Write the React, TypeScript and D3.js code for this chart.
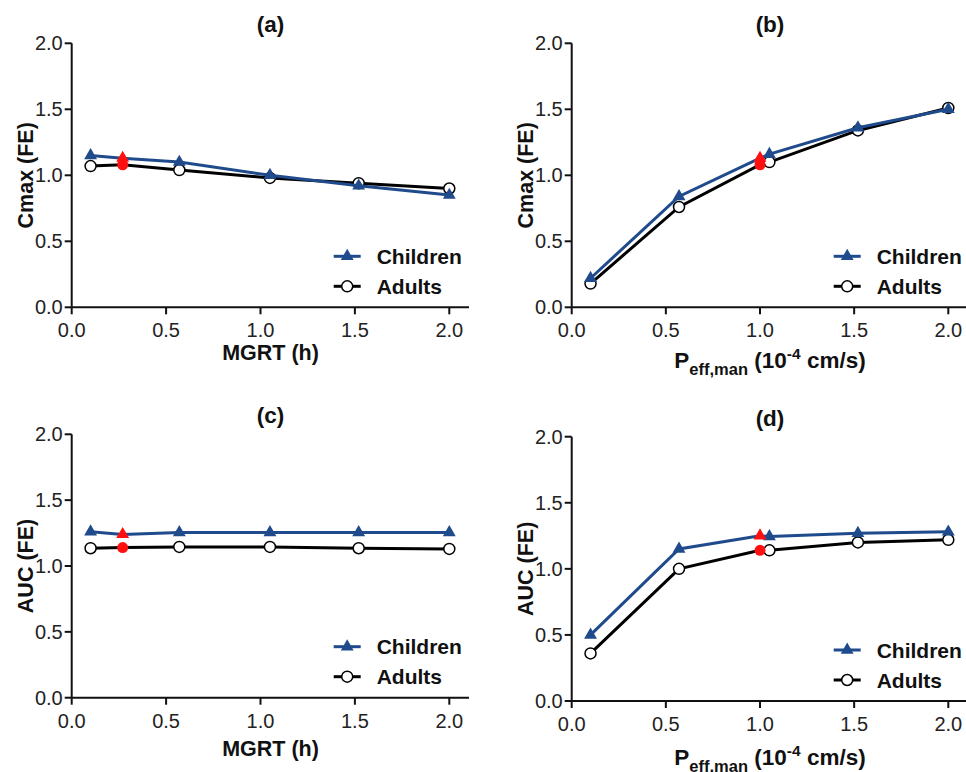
import React from "react";
import * as d3 from "d3";

const mgrtX = [0.1, 0.27, 0.57, 1.05, 1.52, 2.0];
const peffX = [0.1, 0.57, 1.0, 1.05, 1.52, 2.0];

const cmaxMgrtChildren = [1.15, 1.13, 1.1, 1.0, 0.92, 0.85];
const cmaxMgrtAdults = [1.07, 1.08, 1.04, 0.98, 0.94, 0.9];
const cmaxPeffChildren = [0.22, 0.84, 1.13, 1.16, 1.36, 1.5];
const cmaxPeffAdults = [0.18, 0.76, 1.08, 1.1, 1.34, 1.51];
const aucMgrtChildren = [1.26, 1.24, 1.255, 1.255, 1.255, 1.255];
const aucMgrtAdults = [1.135, 1.14, 1.145, 1.145, 1.135, 1.13];
const aucPeffChildren = [0.5, 1.15, 1.25, 1.245, 1.27, 1.28];
const aucPeffAdults = [0.36, 1.0, 1.14, 1.14, 1.2, 1.22];

const axisTicks = [0, 0.5, 1.0, 1.5, 2.0];
const legendLabels = ["Children", "Adults"];
const panelTitles = ["(a)", "(b)", "(c)", "(d)"];

const BLUE = "#1f4b8c";
const RED = "#ff1010";
const FONT = "'Liberation Sans', Arial, sans-serif";

type PanelDef = {
  title: string;
  x: number[];
  children: number[];
  adults: number[];
  redIndex: number;
  yLabel: string;
  xLabelKind: "mgrt" | "peff";
  left: number;
  right: number;
  top: number;
  bottom: number;
  axisEnd: number;
  xLabelY: number;
};

const panels: PanelDef[] = [
  { title: panelTitles[0], x: mgrtX, children: cmaxMgrtChildren, adults: cmaxMgrtAdults, redIndex: 1, yLabel: "Cmax (FE)", xLabelKind: "mgrt", left: 71.7, right: 449.3, top: 43.3, bottom: 307.3, axisEnd: 469, xLabelY: 360 },
  { title: panelTitles[1], x: peffX, children: cmaxPeffChildren, adults: cmaxPeffAdults, redIndex: 2, yLabel: "Cmax (FE)", xLabelKind: "peff", left: 571.7, right: 948.3, top: 43.3, bottom: 307.3, axisEnd: 970, xLabelY: 368 },
  { title: panelTitles[2], x: mgrtX, children: aucMgrtChildren, adults: aucMgrtAdults, redIndex: 1, yLabel: "AUC (FE)", xLabelKind: "mgrt", left: 71.7, right: 449.3, top: 434.3, bottom: 697.7, axisEnd: 469, xLabelY: 756 },
  { title: panelTitles[3], x: peffX, children: aucPeffChildren, adults: aucPeffAdults, redIndex: 2, yLabel: "AUC (FE)", xLabelKind: "peff", left: 571.7, right: 948.3, top: 436.7, bottom: 701, axisEnd: 970, xLabelY: 765 },
];

const triPath = d3.symbol().type(d3.symbolTriangle).size(72)() as string;

function Panel({ p }: { p: PanelDef }) {
  const xs = d3.scaleLinear().domain([0, 2]).range([p.left, p.right]);
  const ys = d3.scaleLinear().domain([0, 2]).range([p.bottom, p.top]);
  const fmt = d3.format(".1f");
  const line = d3
    .line<number>()
    .x((_, i) => xs(p.x[i]))
    .y((d) => ys(d));
  const cx = (p.left + p.right) / 2 + 10;
  const legX = p.left + 262;
  const legYc = p.bottom - 51;
  const legYa = p.bottom - 21;
  return (
    <g>
      <text x={cx} y={p.top - 11} textAnchor="middle" fontFamily={FONT} fontWeight="bold" fontSize={22.5} fill="#111">
        {p.title}
      </text>
      {/* axes */}
      <line x1={p.left} x2={p.left} y1={p.top} y2={p.bottom} stroke="#111" strokeWidth={2} />
      <line x1={p.left} x2={p.axisEnd} y1={p.bottom} y2={p.bottom} stroke="#111" strokeWidth={2} />
      {axisTicks.map((t) => (
        <g key={"y" + t}>
          <line x1={p.left - 7} x2={p.left} y1={ys(t)} y2={ys(t)} stroke="#111" strokeWidth={2} />
          <text x={p.left - 9} y={ys(t)} dy="0.35em" textAnchor="end" fontFamily={FONT} fontSize={20} fill="#222">
            {fmt(t)}
          </text>
        </g>
      ))}
      {axisTicks.map((t) => (
        <g key={"x" + t}>
          <line x1={xs(t)} x2={xs(t)} y1={p.bottom} y2={p.bottom + 7} stroke="#111" strokeWidth={2} />
          <text x={xs(t)} y={p.bottom + 30} textAnchor="middle" fontFamily={FONT} fontSize={20} fill="#222">
            {fmt(t)}
          </text>
        </g>
      ))}
      <text
        transform={`translate(${p.left - 39},${(p.top + p.bottom) / 2}) rotate(-90)`}
        textAnchor="middle"
        fontFamily={FONT}
        fontWeight="bold"
        fontSize={21.5}
        fill="#111"
      >
        {p.yLabel}
      </text>
      {p.xLabelKind === "mgrt" ? (
        <text x={cx} y={p.xLabelY} textAnchor="middle" fontFamily={FONT} fontWeight="bold" fontSize={21.5} fill="#111">
          MGRT (h)
        </text>
      ) : (
        <text x={cx} y={p.xLabelY} textAnchor="middle" fontFamily={FONT} fontWeight="bold" fontSize={22.5} fill="#111">
          <tspan>P</tspan>
          <tspan fontSize={16.5} dy={7}>eff,man</tspan>
          <tspan dy={-7}> (10</tspan>
          <tspan fontSize={15.5} dy={-9}>-4</tspan>
          <tspan dy={9}> cm/s)</tspan>
        </text>
      )}
      {/* adults */}
      <path d={line(p.adults) || ""} fill="none" stroke="#000" strokeWidth={3} />
      {p.adults.map((v, i) =>
        i === p.redIndex ? null : (
          <circle key={"a" + i} cx={xs(p.x[i])} cy={ys(v)} r={5.5} fill="#fff" stroke="#000" strokeWidth={1.5} />
        )
      )}
      {/* children */}
      <path d={line(p.children) || ""} fill="none" stroke={BLUE} strokeWidth={3} />
      {p.children.map((v, i) =>
        i === p.redIndex ? null : (
          <path key={"c" + i} d={triPath} transform={`translate(${xs(p.x[i])},${ys(v)})`} fill={BLUE} />
        )
      )}
      {/* red reference points */}
      <path d={triPath} transform={`translate(${xs(p.x[p.redIndex])},${ys(p.children[p.redIndex])})`} fill={RED} />
      <circle cx={xs(p.x[p.redIndex])} cy={ys(p.adults[p.redIndex])} r={5.5} fill={RED} />
      {/* legend */}
      <line x1={legX} x2={legX + 27} y1={legYc} y2={legYc} stroke={BLUE} strokeWidth={3} />
      <path d={triPath} transform={`translate(${legX + 13.5},${legYc})`} fill={BLUE} />
      <text x={legX + 43} y={legYc} dy="0.36em" fontFamily={FONT} fontWeight="bold" fontSize={21} fill="#111">
        {legendLabels[0]}
      </text>
      <line x1={legX} x2={legX + 27} y1={legYa} y2={legYa} stroke="#000" strokeWidth={3} />
      <circle cx={legX + 13.5} cy={legYa} r={5.5} fill="#fff" stroke="#000" strokeWidth={1.5} />
      <text x={legX + 43} y={legYa} dy="0.36em" fontFamily={FONT} fontWeight="bold" fontSize={21} fill="#111">
        {legendLabels[1]}
      </text>
    </g>
  );
}

export default function App() {
  return (
    <svg
      width={966}
      height={772}
      style={{ position: "absolute", left: 0, top: 0, background: "#fff" }}
    >
      <rect width={966} height={772} fill="#fff" />
      {panels.map((p) => (
        <Panel key={p.title} p={p} />
      ))}
    </svg>
  );
}
